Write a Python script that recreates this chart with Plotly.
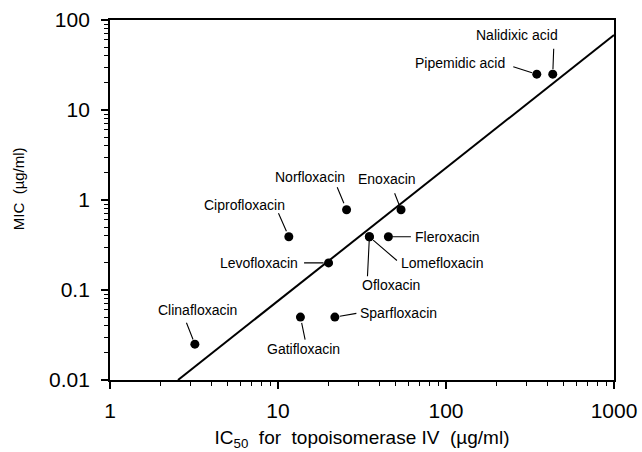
import math
import plotly.graph_objects as go

# ---- data ----
drugs = ["Nalidixic acid", "Pipemidic acid", "Norfloxacin", "Enoxacin", "Ciprofloxacin",
         "Fleroxacin", "Lomefloxacin", "Ofloxacin", "Levofloxacin", "Clinafloxacin",
         "Sparfloxacin", "Gatifloxacin"]
ic50 = [432, 347, 25.6, 54, 11.6, 45.4, 35, 35, 20, 3.2, 21.8, 13.6]
mic = [25, 25, 0.78, 0.78, 0.39, 0.39, 0.39, 0.39, 0.2, 0.025, 0.05, 0.05]
# ends of the drawn regression line
fit_x = [2.54, 1000]
fit_y = [0.01, 68]

x_tickvals = [1, 10, 100, 1000]
x_ticktext = ["1", "10", "100", "1000"]
y_tickvals = [0.01, 0.1, 1, 10, 100]
y_ticktext = ["0.01", "0.1", "1", "10", "100"]

# ---- label styling: (text dx, dy, xanchor, leader tail dx, dy, standoff) in pixels ----
label_style = {
    "Nalidixic acid": (-36, -39, "center", 1, -27, 5),
    "Pipemidic acid": (-77, -11, "center", -25, -8, 5),
    "Norfloxacin": (-37, -33, "center", -10, -24, 7),
    "Enoxacin": (-14, -31, "center", -7, -18, 5),
    "Ciprofloxacin": (-44, -32, "center", -11, -25, 6),
    "Fleroxacin": (25, 0, "left", 24, 0, 4),
    "Lomefloxacin": (30, 26, "left", 29, 25, 5),
    "Ofloxacin": (22, 48, "center", -2, 41, 4),
    "Levofloxacin": (-29, 0, "right", -26, 0, 5),
    "Clinafloxacin": (3, -34, "center", -9, -23, 5),
    "Sparfloxacin": (23, -4, "left", 23, -4, 5),
    "Gatifloxacin": (3, 32, "center", 5, 24, 6),
}

FONT = "Liberation Sans, Arial, Helvetica, sans-serif"
NB = "\u00a0"

fig = go.Figure()
fig.add_trace(go.Scatter(x=fit_x, y=fit_y, mode="lines",
                         line=dict(color="black", width=2), hoverinfo="skip",
                         showlegend=False))
fig.add_trace(go.Scatter(x=ic50, y=mic, mode="markers",
                         marker=dict(color="black", size=9), showlegend=False,
                         text=drugs))

annotations = []
for name, xv, yv in zip(drugs, ic50, mic):
    tdx, tdy, anchor, ldx, ldy, so = label_style[name]
    lx, ly = math.log10(xv), math.log10(yv)  # annotation coords on log axes
    annotations.append(dict(x=lx, y=ly, xref="x", yref="y", text="", showarrow=True,
                            arrowhead=0, arrowwidth=1.1, arrowcolor="black",
                            ax=ldx, ay=ldy, axref="pixel", ayref="pixel", standoff=so))
    annotations.append(dict(x=lx, y=ly, xref="x", yref="y", text=name, showarrow=False,
                            xshift=tdx, yshift=-tdy, xanchor=anchor, yanchor="middle",
                            font=dict(family=FONT, size=14, color="black")))

# y-axis title (sits slightly above the axis centre in the reference)
annotations.append(dict(x=0, y=0.53, xref="paper", yref="paper", xshift=-92,
                        text="MIC" + NB + " (µg/ml)", textangle=-90, showarrow=False,
                        xanchor="center", yanchor="middle",
                        font=dict(family=FONT, size=15, color="black")))

axis_common = dict(type="log", showgrid=False, zeroline=False, showline=True,
                   automargin=False,
                   linecolor="black", linewidth=1.8, mirror=True,
                   ticks="outside", ticklen=7, tickwidth=1.5, tickcolor="black",
                   tickfont=dict(family=FONT, size=21, color="black"),
                   minor=dict(ticks="outside", ticklen=4, tickwidth=1.2,
                              tickcolor="black", dtick="D1", showgrid=False))

fig.update_xaxes(**axis_common, range=[0, 3], tickvals=x_tickvals, ticktext=x_ticktext,
                 ticklabelstandoff=4,
                 title=dict(text=NB + "IC<sub>50</sub>" + NB + " for" + NB + " topoisomerase IV" + NB + " (µg/ml)",
                            font=dict(family=FONT, size=19, color="black"), standoff=10))
fig.update_yaxes(**axis_common, range=[-2, 2], tickvals=y_tickvals, ticktext=y_ticktext,
                 ticklabelstandoff=7)

fig.update_layout(width=642, height=452, margin=dict(l=110, r=28, t=20, b=72),
                  plot_bgcolor="white", paper_bgcolor="white",
                  annotations=annotations, showlegend=False)

# remove the default page margin so the figure fills the window exactly
fig.write_html("out.html", config={"displayModeBar": False},
               post_script="document.body.style.margin='0px';document.body.style.overflow='hidden';")
